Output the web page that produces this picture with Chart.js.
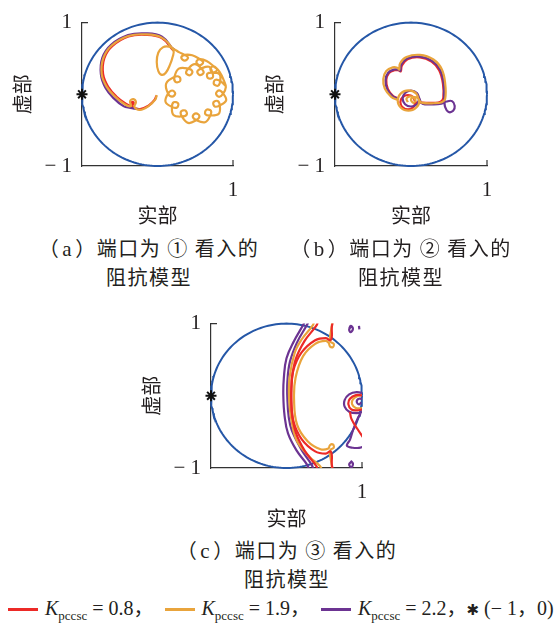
<!DOCTYPE html>
<html>
<head>
<meta charset="utf-8">
<script src="https://cdn.jsdelivr.net/npm/chart.js@4.4.0/dist/chart.umd.min.js"></script>
<style>
  body { margin: 0; width: 554px; height: 626px; background: #fff; position: relative; overflow: hidden;
         font-family: "Noto Sans CJK SC", sans-serif; color: #231f20; text-spacing-trim: space-all; }
  .panel { position: absolute; }
  .cap { position: absolute; font-size: 20px; line-height: 27px; text-align: center; white-space: nowrap;
         letter-spacing: 1.5px; transform: translateX(-50%); text-spacing-trim: space-all; }
  .cap .lt { font-family: "Liberation Serif", serif; font-size: 21px; margin: 0 2px; }
  #legend { position: absolute; left: 8px; top: 594px; font-family: "Liberation Serif", serif; font-size: 20px;
            line-height: 26px; white-space: nowrap; }
  #legend .sw { display: inline-block; width: 30px; height: 2.5px; vertical-align: middle; margin-right: 7px; position: relative; top: -1px; }
  #legend sub { font-size: 13px; }
  #legend .cj { font-family: "Noto Sans CJK SC", sans-serif; }
  #legend .item { margin-right: 6px; }
</style>
</head>
<body>

<div class="panel" style="left:0px;top:0px;"><canvas id="chartA" width="262" height="232"></canvas></div>
<div class="panel" style="left:252px;top:0px;"><canvas id="chartB" width="280" height="232"></canvas></div>
<div class="panel" style="left:129px;top:301px;"><canvas id="chartC" width="262" height="234"></canvas></div>

<div class="cap" style="left:149px;top:234px;">（<span class="lt">a</span>）端口为 ① 看入的<br>阻抗模型</div>
<div class="cap" style="left:401px;top:234px;">（<span class="lt">b</span>）端口为 ② 看入的<br>阻抗模型</div>
<div class="cap" style="left:287px;top:536px;">（<span class="lt">c</span>）端口为 ③ 看入的<br>阻抗模型</div>

<div id="legend">
  <span class="item"><span class="sw" style="background:#ec2a27"></span><i>K</i><sub>pccsc</sub> = 0.8<span class="cj">，</span></span>
  <span class="item"><span class="sw" style="background:#e9a43c"></span><i>K</i><sub>pccsc</sub> = 1.9<span class="cj">，</span></span>
  <span class="item"><span class="sw" style="background:#6c3492"></span><i>K</i><sub>pccsc</sub> = 2.2<span class="cj">，</span><span style="font-family:'DejaVu Sans';font-size:15px;">✱</span> (− 1<span class="cj">，</span>0)</span>
</div>

<script>
const RED = '#ec2a27', ORANGE = '#e9a43c', PURPLE = '#6c3492', BLUE = '#2557a7', AXIS = '#333';

// critical point
const critPoint = [[-1, 0]];

// unit circle |z| = 1
const unitCircle = [];
for (let a = 0; a <= 360; a += 2) {
  const t = a * Math.PI / 180;
  unitCircle.push([Math.cos(t), Math.sin(t)]);
}

// ---------- (a) port 1 ----------
const redA = [[0.21,0.61],[0.056,0.785],[-0.166,0.83],[-0.385,0.805],[-0.6,0.67],[-0.705,0.5],[-0.72,0.28],
  [-0.65,0.1],[-0.545,-0.03],[-0.42,-0.13],[-0.35,-0.16],[-0.315,-0.125],[-0.33,-0.105],[-0.345,-0.13],
  [-0.31,-0.185],[-0.23,-0.205],[-0.12,-0.16],[-0.04,-0.08],[-0.015,-0.02]];
const purpleA = [[0.225,0.64],[0.21,0.625],[0.06,0.805],[-0.166,0.85],[-0.39,0.825],[-0.615,0.69],[-0.73,0.51],
  [-0.75,0.28],[-0.69,0.09],[-0.585,-0.05],[-0.45,-0.165],[-0.36,-0.19],[-0.30,-0.2],[-0.25,-0.205]];
// main arc, first loop and the upper row of small loops
const orangeA = [[-0.01,-0.01],[-0.03,-0.075],[-0.12,-0.165],[-0.232,-0.217],[-0.307,-0.173],[-0.285,-0.111],
  [-0.32,-0.067],[-0.364,-0.097],[-0.351,-0.164],[-0.43,-0.143],[-0.563,-0.031],[-0.673,0.103],[-0.739,0.28],
  [-0.718,0.503],[-0.607,0.68],[-0.387,0.813],[-0.166,0.836],[0.056,0.79],[0.21,0.613],
  [0.20,0.52],[0.166,0.413],[0.11,0.3],[0.056,0.271],[0.011,0.324],[-0.01,0.45],[0.01,0.58],[0.07,0.655],
  [0.15,0.665],[0.22,0.63],[0.29,0.585],
  [0.36,0.55],[0.405,0.51],[0.36,0.47],[0.315,0.51],[0.36,0.55],[0.46,0.545],
  [0.56,0.49],[0.605,0.445],[0.555,0.405],[0.515,0.45],[0.56,0.49],[0.65,0.465],
  [0.745,0.39],[0.79,0.34],[0.735,0.305],[0.70,0.355],[0.745,0.39],[0.83,0.30],[0.88,0.19]];
// scalloped ring: [angle in degrees, radius] around its centre
const cloudCenterA = [0.5, 0.01];
const cloudA = [[12.5,0.415],
  [0,0.37],[-8,0.32],[0,0.275],[8,0.32],[0,0.37],[-13,0.42],
  [-27,0.365],[-35,0.315],[-27,0.27],[-19,0.315],[-27,0.365],[-42,0.42],
  [-57,0.365],[-65,0.315],[-57,0.27],[-49,0.315],[-57,0.365],[-72,0.42],
  [-88,0.37],[-96,0.32],[-88,0.275],[-80,0.32],[-88,0.37],[-103,0.42],
  [-119,0.365],[-127,0.315],[-119,0.27],[-111,0.315],[-119,0.365],[-134,0.415],
  [-149,0.36],[-157,0.31],[-149,0.265],[-141,0.31],[-149,0.36],[-164,0.41],
  [-180,0.36],[-188,0.31],[-180,0.265],[-172,0.31],[-180,0.36],[-200,0.41],
  [-220,0.36],[-228,0.31],[-220,0.265],[-212,0.31],[-220,0.36],[-238,0.41],
  [-255,0.36],[-263,0.31],[-255,0.265],[-247,0.31],[-255,0.36],[-269,0.41],
  [-283,0.36],[-291,0.31],[-283,0.265],[-275,0.31],[-283,0.36],[-296,0.415],
  [-308,0.37],[-316,0.32],[-308,0.275],[-300,0.32],[-308,0.37],[-320,0.42],
  [-332,0.375],[-340,0.325],[-332,0.28],[-324,0.325],[-332,0.375],[-346,0.42]];

// ---------- (b) port 2 ----------
const redB = [[-0.16,-0.06],[-0.235,-0.025],[-0.305,0.075],[-0.325,0.2],[-0.29,0.295],[-0.22,0.335],[-0.165,0.335],
  [-0.135,0.32],[-0.12,0.40],[-0.045,0.49],[0.118,0.515],[0.27,0.455],[0.37,0.335],[0.42,0.15],[0.425,-0.05],
  [0.39,-0.105],[0.30,-0.12],[0.15,-0.115],[0.06,-0.11],[0.03,-0.04],[-0.04,-0.01],[-0.11,-0.04],[-0.14,-0.11],
  [-0.11,-0.18],[-0.04,-0.21],[0.03,-0.18],[0.06,-0.11]];
const purpleB = [[-0.16,-0.06],[-0.24,-0.03],[-0.315,0.075],[-0.335,0.20],[-0.30,0.30],[-0.225,0.345],[-0.17,0.345],
  [-0.14,0.33],[-0.13,0.41],[-0.05,0.50],[0.118,0.525],[0.28,0.465],[0.385,0.34],[0.43,0.15],[0.435,-0.02],
  [0.44,-0.10],[0.45,-0.18],[0.49,-0.245],[0.555,-0.23],[0.575,-0.16],[0.54,-0.095],[0.47,-0.10],[0.40,-0.13],
  [0.30,-0.14],[0.15,-0.13],[0.11,-0.06],[0.078,0.018],[0,0.05],[-0.078,0.018],[-0.11,-0.06],[-0.078,-0.138],
  [0,-0.17],[0.078,-0.138],[0.11,-0.06]];
const orangeB = [[-0.175,-0.08],[-0.26,-0.035],[-0.345,0.08],[-0.365,0.213],[-0.325,0.325],[-0.24,0.375],
  [-0.18,0.37],[-0.155,0.345],[-0.145,0.43],[-0.06,0.52],[0.118,0.55],[0.295,0.485],[0.405,0.35],[0.45,0.15],
  [0.45,-0.06],[0.405,-0.11],[0.30,-0.125],[0.15,-0.12],[0.109,-0.087],[0.067,0.013],[-0.033,0.055],
  [-0.133,0.013],[-0.175,-0.087],[-0.133,-0.187],[-0.033,-0.229],[0.067,-0.187],[0.109,-0.087],
  [0.05,-0.04],[0.0,-0.07],[0.03,-0.12],[0.06,-0.08],[0.0,-0.03],[-0.06,-0.06],[-0.04,-0.11]];

// ---------- (c) port 3 ----------
const redC1 = [[0.42,1.05],[0.40,0.98],[0.24,0.76],[0.12,0.5],[0.07,0.2],[0.065,-0.1],[0.09,-0.35],[0.2,-0.6],
  [0.38,-0.77],[0.52,-0.80],[0.58,-0.77],[0.60,-0.82],[0.60,-0.95],[0.62,-1.05]];
const redC2 = [[0.42,-1.05],[0.40,-0.98],[0.24,-0.76],[0.12,-0.5],[0.07,-0.2],[0.065,0.1],[0.09,0.35],[0.2,0.6],
  [0.38,0.77],[0.52,0.80],[0.58,0.77],[0.60,0.82],[0.60,0.95],[0.62,1.05]];
const redC3 = [[1.03,0.0],[0.92,0.01],[0.84,-0.04],[0.82,-0.12],[0.86,-0.19],[0.95,-0.2],[1.03,-0.18]];
const redC4 = [[0.84,-0.22],[0.86,-0.32],[0.94,-0.46],[1.03,-0.6]];
const orangeC1 = [[0.37,1.05],[0.35,0.98],[0.2,0.78],[0.11,0.6],[0.04,0.25],[0.035,-0.05],[0.06,-0.3],[0.135,-0.62],
  [0.31,-0.85],[0.44,-0.97],[0.48,-1.05]];
const orangeC2 = [[0.61,1.05],[0.595,0.93],[0.575,0.80],[0.585,0.745],[0.625,0.72],[0.615,0.675],[0.575,0.685],
  [0.56,0.73],[0.52,0.76],[0.38,0.72],[0.22,0.55],[0.12,0.25],[0.10,-0.05],[0.14,-0.40],[0.28,-0.63],[0.45,-0.74],
  [0.555,-0.73],[0.575,-0.685],[0.615,-0.675],[0.625,-0.72],[0.585,-0.745],[0.575,-0.80],[0.595,-0.93],[0.61,-1.05]];
const orangeC3 = [[1.03,0.01],[0.95,0.0],[0.88,-0.05],[0.87,-0.12],[0.92,-0.17],[1.03,-0.17]];
const purpleC1 = [[0.25,1.05],[0.22,0.98],[0.10,0.76],[0.0,0.52],[-0.035,0.25],[-0.042,0.0],[-0.025,-0.28],
  [0.02,-0.52],[0.135,-0.76],[0.27,-0.95],[0.31,-1.05]];
const purpleC2 = [[0.30,1.05],[0.27,0.98],[0.14,0.74],[0.045,0.47],[0.012,0.2],[0.012,-0.05],[0.03,-0.3],
  [0.07,-0.48],[0.2,-0.75],[0.33,-0.95],[0.37,-1.05]];
const purpleC3 = [[1.03,0.03],[0.93,0.05],[0.83,0.02],[0.77,-0.06],[0.77,-0.15],[0.83,-0.22],[0.93,-0.24],[1.03,-0.22]];
const purpleC4 = [[1.03,-0.05],[0.96,-0.04],[0.93,-0.08],[0.96,-0.12],[0.99,-0.09]];
const purpleC5 = [[0.98,-0.25],[0.94,-0.32],[0.88,-0.48],[0.84,-0.61],[0.80,-0.69],[0.88,-0.72],[0.96,-0.72],[1.03,-0.70]];
const purpleC6 = [[0.83,0.93],[0.85,0.97],[0.88,0.93],[0.85,0.88],[0.83,0.92],[0.86,0.96]];
const purpleC7 = [[0.96,0.97],[0.965,0.92]];
const purpleC8 = [[0.85,-0.90],[0.88,-0.94],[0.86,-0.99],[0.83,-0.95],[0.86,-0.91]];

function polarToXY(list, c) {
  return list.map(([deg, r]) => [c[0] + r * Math.cos(deg * Math.PI / 180), c[1] + r * Math.sin(deg * Math.PI / 180)]);
}

function curve(pts, color) {
  return { data: pts.map(([x, y]) => ({ x, y })), showLine: true, borderColor: color, borderWidth: 2.2,
           pointRadius: 0, tension: 0.4, fill: false };
}

function baseSets() {
  return {
    star: { data: critPoint.map(([x, y]) => ({ x, y })), showLine: false, pointStyle: 'star', pointRadius: 5.5,
            borderColor: '#111', borderWidth: 2, backgroundColor: '#111', clip: false },
    circle: { data: unitCircle.map(([x, y]) => ({ x, y })), showLine: true, borderColor: BLUE, borderWidth: 2,
              pointRadius: 0, tension: 0, clip: 4 }
  };
}

// small inward ticks at the far ends of both axes
const edgeTicks = {
  id: 'edgeTicks',
  afterDraw(chart) {
    const { ctx, scales: { x, y } } = chart;
    const left = x.getPixelForValue(-1), right = x.getPixelForValue(1);
    const top = y.getPixelForValue(1), bottom = y.getPixelForValue(-1);
    ctx.save();
    ctx.strokeStyle = AXIS;
    ctx.lineWidth = 1.2;
    ctx.beginPath();
    ctx.moveTo(left, top); ctx.lineTo(left + 6, top);
    ctx.moveTo(right, bottom); ctx.lineTo(right, bottom - 6);
    ctx.stroke();
    ctx.restore();
  }
};

function makePanel(id, curves, g) {
  const b = baseSets();
  new Chart(document.getElementById(id), {
    type: 'scatter',
    data: { datasets: [b.star, ...curves, b.circle] },
    options: {
      responsive: false,
      animation: false,
      events: [],
      layout: { padding: { top: g.top, right: g.right, left: 0, bottom: 0 } },
      plugins: { legend: { display: false }, tooltip: { enabled: false } },
      scales: {
        x: {
          type: 'linear', min: -1, max: 1,
          afterBuildTicks: s => { s.ticks = [{ value: -1 }, { value: 1 }]; },
          afterFit: s => { s.height = g.xh; },
          grid: { display: false, drawTicks: false },
          border: { display: true, color: AXIS, width: 1.2 },
          ticks: { padding: 12, color: '#231f20', font: { family: 'Liberation Serif', size: 21 },
                   callback: v => (v === 1 ? '1' : '') },
          title: { display: true, text: '实部', color: '#231f20', padding: { bottom: 5 },
                   font: { family: 'Noto Sans CJK SC', size: 20 } }
        },
        y: {
          type: 'linear', min: -1, max: 1,
          afterBuildTicks: s => { s.ticks = [{ value: -1 }, { value: 1 }]; },
          afterFit: s => { s.width = g.yw; },
          grid: { display: false, drawTicks: false },
          border: { display: true, color: AXIS, width: 1.2 },
          ticks: { padding: 10, color: '#231f20', font: { family: 'Liberation Serif', size: 21 },
                   callback: v => (v === 1 ? '1' : '− 1') },
          title: { display: true, text: '虚部', color: '#231f20', padding: { top: 10 },
                   font: { family: 'Noto Sans CJK SC', size: 20 } }
        }
      }
    },
    plugins: [edgeTicks]
  });
}

makePanel('chartA', [
  curve(orangeA.concat(polarToXY(cloudA, cloudCenterA)), ORANGE),
  curve(purpleA, PURPLE),
  curve(redA, RED)
], { top: 16, right: 29, yw: 82, xh: 66 });

makePanel('chartB', [
  curve(orangeB, ORANGE),
  curve(purpleB, PURPLE),
  curve(redB, RED)
], { top: 16, right: 45, yw: 83, xh: 66 });

makePanel('chartC', [
  curve(redC1, RED), curve(redC2, RED), curve(redC3, RED), curve(redC4, RED),
  curve(orangeC1, ORANGE), curve(orangeC2, ORANGE), curve(orangeC3, ORANGE),
  curve(purpleC1, PURPLE), curve(purpleC2, PURPLE), curve(purpleC3, PURPLE), curve(purpleC4, PURPLE),
  curve(purpleC5, PURPLE), curve(purpleC6, PURPLE), curve(purpleC7, PURPLE), curve(purpleC8, PURPLE)
], { top: 16, right: 29, yw: 82, xh: 67 });
</script>
</body>
</html>
